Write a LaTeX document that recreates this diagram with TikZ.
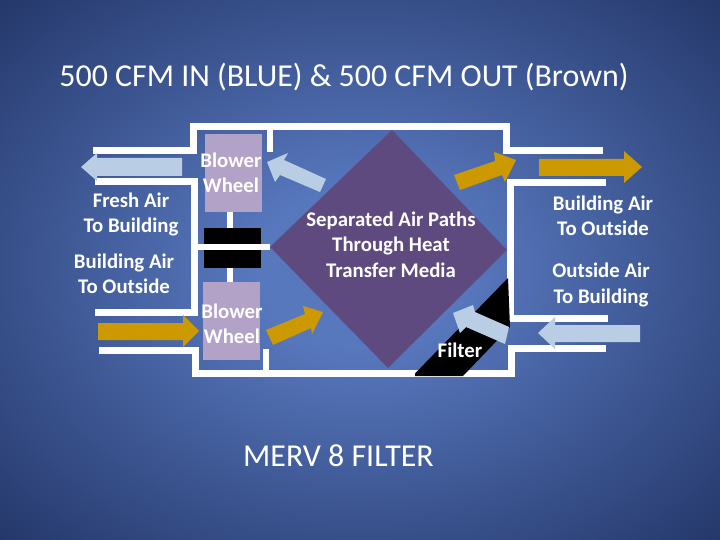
\documentclass[tikz,border=0pt]{standalone}
\usepackage{fontspec}
\setmainfont{Carlito}
\definecolor{purplebox}{HTML}{5F4A80}
\definecolor{wheelbox}{HTML}{B3A2C7}
\definecolor{airblue}{HTML}{B9CDE5}
\definecolor{airgold}{HTML}{CC9900}
\definecolor{bgmid}{HTML}{5878BE}
\definecolor{bgedge}{HTML}{1A2B5A}
\pgfdeclareradialshading{slidebg}{\pgfpoint{0bp}{0bp}}{
  color(0bp)=(bgmid); color(7bp)=(bgmid); color(41bp)=(bgedge); color(100bp)=(bgedge)}
\tikzset{
  wall/.style={draw=white,line width=7pt,line cap=butt,line join=miter},
  stub/.style={draw=white,line width=5.5pt},
  bluearrow/.style={fill=airblue,draw=none},
  goldarrow/.style={fill=airgold,draw=none},
  lbl/.style={text=white,font=\fontsize{20.8}{25.3}\selectfont\bfseries,align=center,inner sep=0pt},
  wheel/.style={fill=wheelbox,draw=none},
  bigtext/.style={text=white,font=\fontsize{31.9}{36}\selectfont,inner sep=0pt}
}
\begin{document}
\begin{tikzpicture}[x=1pt,y=-1pt]
\useasboundingbox (0,0) rectangle (720,540);
\shade[shading=slidebg] (0,0) rectangle (720,540);
% diamond
\fill[purplebox] (392,130) -- (507,250) -- (388,368) -- (270,247) -- cycle;
% walls
\draw[wall] (93,151) -- (193,151) -- (193,127) -- (506,127) -- (506,151) -- (603,151);
\draw[wall] (95,182) -- (194,182) -- (194,312) -- (95,312);
\draw[wall] (99,350) -- (195,350) -- (195,373) -- (511,373) -- (511,348) -- (606,348);
\draw[wall] (606,183) -- (510,183) -- (510,318) -- (608,318);
\draw[stub] (270,127) -- (270,152);
\draw[stub] (266,349) -- (266,373);
\draw[stub] (230,205) -- (230,290);
% black coupling
\fill[black] (204,228) rectangle (261,268);
\draw[stub] (197,247) -- (270,247);
% wheels
\fill[wheel] (205,134) rectangle (262,212);
\fill[wheel] (203,282) rectangle (260,360);
% filter
\fill[black] (415,373.5) -- (508,278) -- (510,327) -- (463,376) -- (415,376) -- cycle;
% arrows
\fill[bluearrow] (182,158) -- (97,158) -- (97,153) -- (81,167) -- (97,181) -- (97,176) -- (182,176) -- cycle;
\fill[bluearrow] (326,179) -- (284,160) -- (288,153) -- (267,162) -- (275,182) -- (280,175) -- (320,192) -- cycle;
\fill[goldarrow] (98,323) -- (183,323) -- (183,315) -- (199,331) -- (183,347) -- (183,340) -- (98,340) -- cycle;
\fill[goldarrow] (266,330) -- (305,314) -- (303,306) -- (323,312) -- (312,334) -- (311,328) -- (273,345) -- cycle;
\fill[goldarrow] (454,175) -- (495,161) -- (494,152) -- (516,160) -- (505,182) -- (502,175) -- (460,190) -- cycle;
\fill[goldarrow] (539,159) -- (624,159) -- (624,151) -- (642,167) -- (624,183) -- (624,176) -- (539,176) -- cycle;
\fill[bluearrow] (509,327) -- (475,312) -- (473,305) -- (453,313) -- (460,333) -- (466,327) -- (505,344) -- cycle;
\fill[bluearrow] (640,325) -- (555,325) -- (555,317) -- (538,333) -- (555,349) -- (555,342) -- (640,342) -- cycle;
% labels
\node[bigtext] (title) at (344,77) {500 CFM IN (BLUE) \& 500 CFM OUT (Brown)};
\node[bigtext] (merv) at (338.5,456) {MERV 8 FILTER};
\node[lbl] (freshleft) at (131,214.5) {Fresh Air\\To Building};
\node[lbl] (bldgleft) at (124,273.5) {Building Air\\To Outside};
\node[lbl] (blowertop) at (231,173) {Blower\\Wheel};
\node[lbl] (blowerbot) at (232,323.5) {Blower\\Wheel};
\node[lbl] (media) at (391,244.5) {Separated Air Paths\\Through Heat\\Transfer Media};
\node[lbl] (bldgright) at (603,215.5) {Building Air\\To Outside};
\node[lbl] (outright) at (601,285) {Outside Air\\To Building};
\node[lbl] (filter) at (460,350) {Filter};
\end{tikzpicture}
\end{document}
